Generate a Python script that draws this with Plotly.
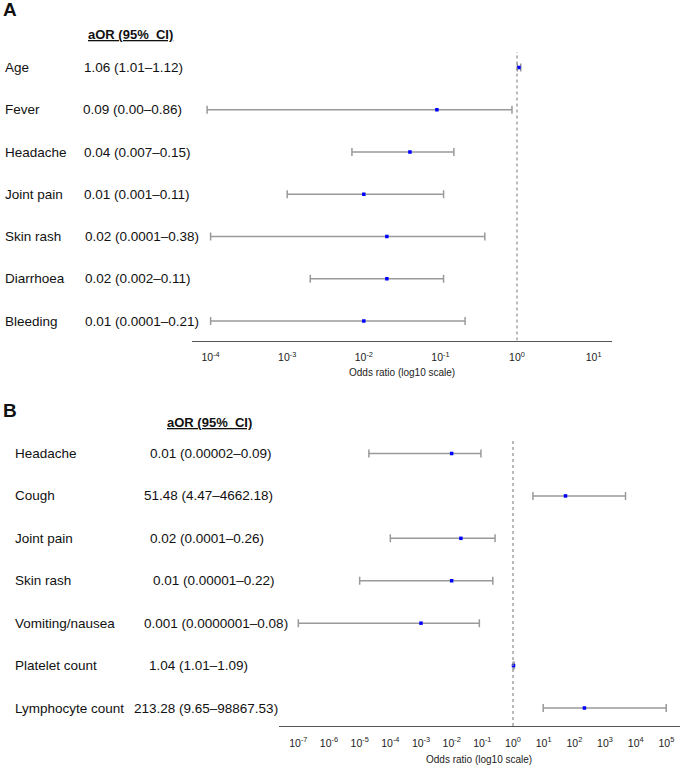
import plotly.graph_objects as go

# ---------------- Data ----------------
# Panel A
a_labels = ["Age", "Fever", "Headache", "Joint pain", "Skin rash", "Diarrhoea", "Bleeding"]
a_text = ["1.06 (1.01\u20131.12)", "0.09 (0.00\u20130.86)", "0.04 (0.007\u20130.15)",
          "0.01 (0.001\u20130.11)", "0.02 (0.0001\u20130.38)", "0.02 (0.002\u20130.11)",
          "0.01 (0.0001\u20130.21)"]
a_or = [1.06, 0.09, 0.04, 0.01, 0.02, 0.02, 0.01]
a_lo = [1.01, 0.00009, 0.007, 0.001, 0.0001, 0.002, 0.0001]
a_hi = [1.12, 0.86, 0.15, 0.11, 0.38, 0.11, 0.21]
a_tick_exp = [-4, -3, -2, -1, 0, 1]

# Panel B
b_labels = ["Headache", "Cough", "Joint pain", "Skin rash", "Vomiting/nausea",
            "Platelet count", "Lymphocyte count"]
b_text = ["0.01 (0.00002\u20130.09)", "51.48 (4.47\u20134662.18)", "0.02 (0.0001\u20130.26)",
          "0.01 (0.00001\u20130.22)", "0.001 (0.0000001\u20130.08)", "1.04 (1.01\u20131.09)",
          "213.28 (9.65\u201398867.53)"]
b_or = [0.01, 51.48, 0.02, 0.01, 0.001, 1.04, 213.28]
b_lo = [0.00002, 4.47, 0.0001, 0.00001, 0.0000001, 1.01, 9.65]
b_hi = [0.09, 4662.18, 0.26, 0.22, 0.08, 1.09, 98867.53]
b_tick_exp = [-7, -6, -5, -4, -3, -2, -1, 0, 1, 2, 3, 4, 5]

# ---------------- Layout helpers ----------------
# The page body margin is removed by post_script, so the figure starts at (0, 0).
W, H = 685, 768
def px(x):
    return x / W
def py(y):
    return 1 - y / H

FONT = "Arial, Liberation Sans, sans-serif"
NARROW = "Liberation Sans Narrow, Arial Narrow, Liberation Sans, sans-serif"
BLUE = "#0000ff"
GREY = "#9a9a9a"

# Panel A geometry (window pixels)
A_top_row, A_bot_row, A_axis, A_top = 67.5, 321.0, 340.5, 45.0
A_sp = (A_bot_row - A_top_row) / 6
A_yr = [-(A_axis - A_bot_row) / A_sp, 6 + (A_top_row - A_top) / A_sp]
A_dash_top = 6 + (A_top_row - 52) / A_sp

# Panel B geometry
B_top_row, B_bot_row, B_axis, B_top = 453.5, 708.0, 726.0, 436.0
B_sp = (B_bot_row - B_top_row) / 6
B_yr = [-(B_axis - B_bot_row) / B_sp, 6 + (B_top_row - B_top) / B_sp]
B_dash_top = 6 + (B_top_row - 440) / B_sp

n = len(a_labels)
a_y = list(range(n - 1, -1, -1))
b_y = list(range(len(b_labels) - 1, -1, -1))

fig = go.Figure()

def add_forest(orv, lo, hi, yv, xa, ya):
    fig.add_trace(go.Scatter(
        x=orv, y=yv, mode="markers", xaxis=xa, yaxis=ya,
        marker=dict(symbol="square", size=3.5, color=BLUE, line=dict(width=0)),
        error_x=dict(type="data", symmetric=False,
                     array=[h - o for h, o in zip(hi, orv)],
                     arrayminus=[o - l for o, l in zip(orv, lo)],
                     color=GREY, thickness=1.5, width=4),
        showlegend=False, hoverinfo="skip"))

add_forest(a_or, a_lo, a_hi, a_y, "x", "y")
add_forest(b_or, b_lo, b_hi, b_y, "x2", "y2")

# Reference lines at OR = 1
fig.add_shape(type="line", xref="x", yref="y", x0=1, x1=1, y0=A_yr[0], y1=A_dash_top,
              line=dict(color="#8c8c8c", width=1.2, dash="dot"))
fig.add_shape(type="line", xref="x2", yref="y2", x0=1, x1=1, y0=B_yr[0], y1=B_dash_top,
              line=dict(color="#8c8c8c", width=1.2, dash="dot"))

def sup_ticks(exps):
    return [10.0 ** e for e in exps], ["10<sup>%d</sup>" % e for e in exps]

atv, att = sup_ticks(a_tick_exp)
btv, btt = sup_ticks(b_tick_exp)

A_x0, A_x1 = 192, 612
A_px_dec = 76.6
A_one = 517
B_x0, B_x1 = 279, 680
B_px_dec = 30.67
B_one = 513

axis_common = dict(type="log", showgrid=False, zeroline=False, showline=True,
                   linecolor="#555555", linewidth=1, ticks="", mirror=False,
                   tickfont=dict(family=NARROW, size=10.5, color="#222222"),
                   ticklabelstandoff=7, fixedrange=True)

fig.update_layout(
    width=W, height=H, margin=dict(l=0, r=0, t=0, b=0),
    paper_bgcolor="white", plot_bgcolor="white",
    xaxis=dict(domain=[px(A_x0), px(A_x1)],
               range=[(A_x0 - A_one) / A_px_dec, (A_x1 - A_one) / A_px_dec],
               tickvals=atv, ticktext=att, anchor="y", **axis_common),
    yaxis=dict(domain=[py(A_axis), py(A_top)], range=A_yr, visible=False, fixedrange=True),
    xaxis2=dict(domain=[px(B_x0), px(B_x1)],
                range=[(B_x0 - B_one) / B_px_dec, (B_x1 - B_one) / B_px_dec],
                tickvals=btv, ticktext=btt, anchor="y2", **axis_common),
    yaxis2=dict(domain=[py(B_axis), py(B_top)], range=B_yr, visible=False, fixedrange=True),
)

ann = []
lab_font = dict(family=FONT, size=13.5, color="#111111")

# Panel letters
ann.append(dict(text="<b>A</b>", x=px(1), y=py(9), xref="paper", yref="paper",
                xanchor="left", yanchor="middle", showarrow=False,
                font=dict(family=FONT, size=19, color="#111111")))
ann.append(dict(text="<b>B</b>", x=px(1), y=py(410), xref="paper", yref="paper",
                xanchor="left", yanchor="middle", showarrow=False,
                font=dict(family=FONT, size=19, color="#111111")))
# Headers
ann.append(dict(text="<b><u>aOR (95%  CI)</u></b>", x=px(130), y=py(35), xref="paper",
                yref="paper", xanchor="center", yanchor="middle", showarrow=False,
                font=dict(family=FONT, size=13, color="#111111")))
ann.append(dict(text="<b><u>aOR (95%  CI)</u></b>", x=px(209), y=py(422), xref="paper",
                yref="paper", xanchor="center", yanchor="middle", showarrow=False,
                font=dict(family=FONT, size=13, color="#111111")))

A_text_x = [82, 81, 82, 82, 83, 83, 83]
for lab, txt, yv, tx in zip(a_labels, a_text, a_y, A_text_x):
    ann.append(dict(text=lab, x=px(3), y=yv, xref="paper", yref="y", xanchor="left",
                    yanchor="middle", showarrow=False, font=lab_font))
    ann.append(dict(text=txt, x=px(tx), y=yv, xref="paper", yref="y", xanchor="left",
                    yanchor="middle", showarrow=False, font=lab_font))

B_text_x = [148, 142, 148, 151, 142, 147, 132]
for lab, txt, yv, tx in zip(b_labels, b_text, b_y, B_text_x):
    ann.append(dict(text=lab, x=px(13), y=yv, xref="paper", yref="y2", xanchor="left",
                    yanchor="middle", showarrow=False, font=lab_font))
    ann.append(dict(text=txt, x=px(tx), y=yv, xref="paper", yref="y2", xanchor="left",
                    yanchor="middle", showarrow=False, font=lab_font))

# Axis titles
ttl_font = dict(family=NARROW, size=10, color="#222222")
ann.append(dict(text="Odds ratio (log10 scale)", x=px((A_x0 + A_x1) / 2), y=py(372),
                xref="paper", yref="paper", xanchor="center", yanchor="middle",
                showarrow=False, font=ttl_font))
ann.append(dict(text="Odds ratio (log10 scale)", x=px((B_x0 + B_x1) / 2), y=py(759),
                xref="paper", yref="paper", xanchor="center", yanchor="middle",
                showarrow=False, font=ttl_font))

fig.update_layout(annotations=ann)
fig.write_html("out.html", config={"displayModeBar": False},
               post_script="document.body.style.margin='0';document.body.style.padding='0';")
